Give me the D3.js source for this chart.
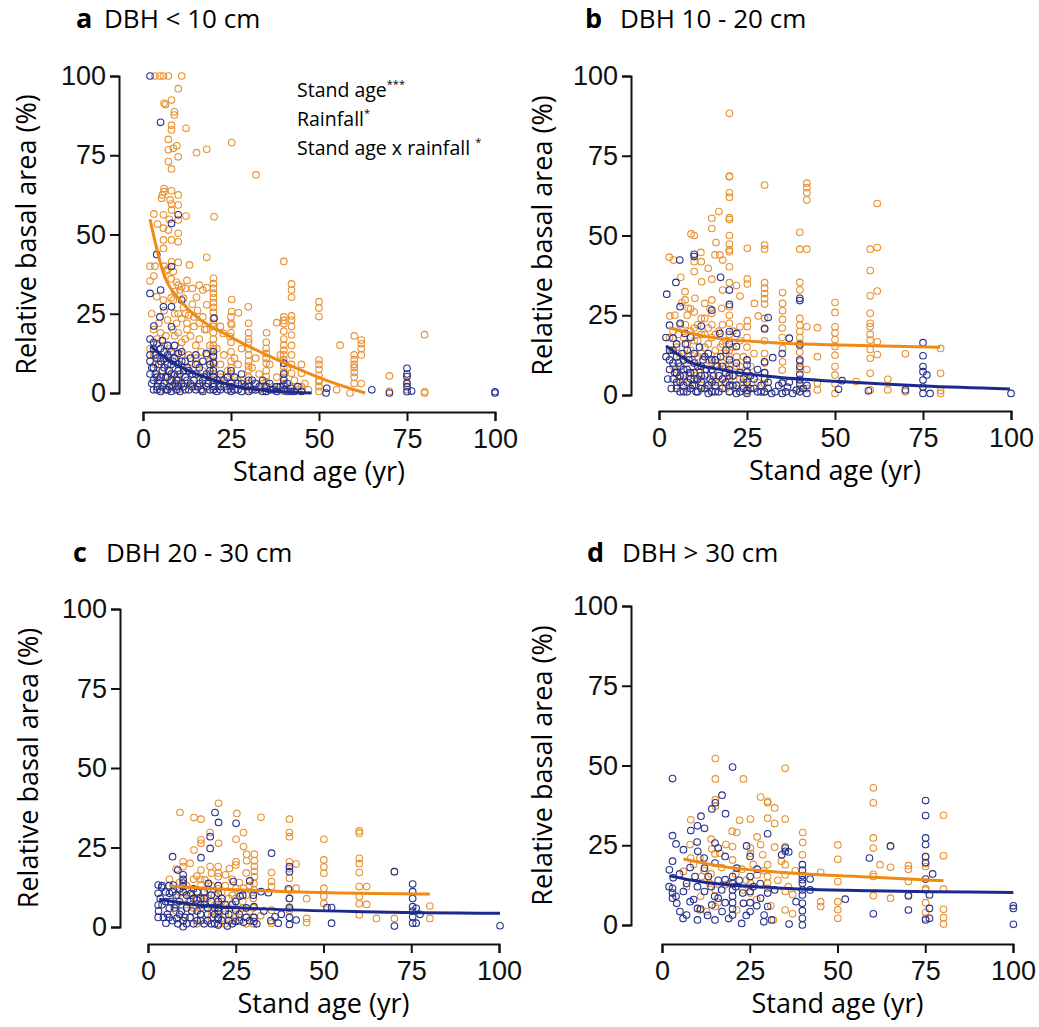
<!DOCTYPE html>
<html>
<head>
<meta charset="utf-8">
<script src="https://cdn.jsdelivr.net/npm/d3@7"></script>
<style>
  body { margin: 0; background: #fff; }
  svg { font-family: "Open Sans", "Noto Sans", sans-serif; }
  .axis path, .axis line { stroke: #111; stroke-width: 2; }
  .axis text { font-size: 27px; fill: #111; }
</style>
</head>
<body>
<div id="chart"></div>
<script>
// ticks and labels
var ageTicks = [0, 25, 50, 75, 100];
var pctTicks = [0, 25, 50, 75, 100];
var panelLetters = ["a", "b", "c", "d"];
var panelTitles = ["DBH < 10 cm", "DBH 10 - 20 cm", "DBH 20 - 30 cm", "DBH > 30 cm"];
var legendTerms = ["Stand age", "Rainfall", "Stand age x rainfall "];
var legendStars = ["***", "*", "*"];

// points: [stand age, relative basal area]
var aOrange = [[3.4,100],[4.8,100],[5.8,100],[7.2,100],[11,100],
[10,96],[6,91.4],[6.4,91],[8.1,92.4],[8.9,88.7],[8.9,87.7],[8.1,84.5],[8.1,83],[12.2,83.5],[7.2,80],[9.6,78],[8.6,77.2],[7.2,76.7],[10,74.5],[15.2,75.8],[18.1,76.9],[25.2,79],[7.2,73],[8.1,70.7],[32.1,68.8],
[6,64.5],[6,63.5],[5.5,62.5],[8.1,63.8],[5.3,61.4],[7.7,60.9],[10,62.5],[10,59.3],[8.1,59.6],[8.1,57.7],[3.1,56.5],[5.8,56.2],[12.2,55.8],[20.2,55.6],[7.5,54.8],[10,54.6],[4.1,53.3],[5.8,52],[7.2,51.4],[10,50.4],[8.1,48.3],[10,47.7],[5.8,48.3],[5.8,45.6],[18.1,42.8],[8.1,41.4],[10,41.2],[40,41.5],[2,40],[3.4,40],[6,40],[7,39],[6.5,38.5],[13.2,40.4],[8.6,38.3],[2,35.3],[3.1,36.9],[8,36],[9.5,35],[10,34],[11,33.5],[12,33],[10.5,32.5],[9,32],[12.5,35.5],[14,33],[16,34],[17,32.5],[18.1,33.2],
[20,36.2],[20,34.5],[20,33],[20,31.5],[20,30],[20,28.5],[20,27],[20,25.5],
[3.9,30.4],[5.8,29.3],[8.6,29.3],[11.5,29.9],[15.2,30.2],[18.1,27.8],[25.2,29.5],[29.9,27.2],[42.2,34.4],[42.2,32.5],[42.2,30.2],[25.2,25.7],[27.1,25.3],[40,24],[40,22.9],[40,21.9],[38,22.2],[42.2,24.3],[42.2,23],[50,28.8],[50,26.8],[50,24.1],
[10,25],[11,23.5],[12.5,22],[13,24.5],[14.5,21],[14.5,24],[16,22],[17.5,20],[20,23.5],[20,22],[20,21],[25.2,21.5],[22.8,18.8],[24.7,17.8],[35.1,19],[42.2,18.3],[60,18],[62,16.7],[62,15.5],[62,14],[62,12],[56,15.1],[80,18.4],
[60,12],[60,10.5],[60,9],[60,8],[60,6.5],[60,5],[50,10.4],[50,9],[50,7.5],[50,5.5],[50,4.1],[40,15.1],[40,13.5],[40,12],[40,10.5],[40,8.3],[42.2,6.2],[30,14],[30,12],[30,10],[30,7.3],[35,12.5],[35,9.4],[35,5.2],[35,2],[45,6.2],[45,2],[50,3.6],[50,2],[50,0.5],[58.8,0],[70,5.4],[70,0.5],[75,3.6],[75,1],[80,0.4],[80,0],
[2,14],[3,12],[3.5,9],[4,6],[5,3],[5,1],[6,15],[6.5,11],[7,7],[7.5,4],[8,2],[8.5,13],[9,18],[9.5,10],[10,5],[10,1],[11,16],[11.5,8],[12,3],[12.5,20],[13,12],[14,6],[14.5,2],[15,15],[15.5,9],[16,4],[17,1],[18,12],[19,6],[20,17],[20,12],[20,8],[20,4],[20,1],[22,9],[23,3],[25,13],[25,6],[25,1],[27,9],[28,4],[30,5],[30,1],[32,3],[33,1],[35,0.5],[38,1],[40,3],[40,0.5],[42,2],[44,1],
[20,19],[20,15],[20,14],[20,10],[20,6],[20,2.5],[25,24],[25,22],[25,19],[25,16],[25,10],[25,8],[25,3.5],[30,22],[30,19],[30,17],[30,16],[30,8.5],[30,3],[35,16],[35,14],[35,11],[35,7],[35,3.5],[40,19.5],[40,17],[40,6.5],[40,5],[42.2,21],[42.2,15],[42.2,12],[42.2,9],[2.5,25],[3,20],[4,17],[4.5,22],[5,19],[6,26],[6.5,18],[7,23],[7.5,14],[8,30],[8.5,20],[9,25],[9.5,22],[10,19],[10.5,14],[11,12],[11.5,27],[12,17],[12,25],[13,8],[13.5,18],[14,28],[15,11],[15.5,26],[16,17],[16.5,13],[17,24],[17,7],[18,20],[18,3],[19,15],[19,10],[21,14],[22,21],[22,5],[23,12],[24,7],[26,11],[27,4],[28,14],[29,2],[31,8],[32,11],[33,6],[34,3],[36,9],[37,2],[38,5],[39,12],[41,8],[43,4],[45,9],[46,3],[47,1],[55,1],[62,3],[60,3]];

var aBlue = [[2,100],[5,85.4],[10,56.2],[8.1,53.5],[3.9,43.7],[8.1,39.9],[2,31.4],[5,32.5],[5.8,27.2],[8.1,27.2],[11,29.3],[3.1,21.1],[4.8,24],[8.1,20.9],[20.2,23.6],[2,17],[3,16],[4,15.5],[5,14],[5.5,16.5],[7,15],[8,13],[9,15],[10,12.5],[18,12.5],[20,11.5],[20,9.4],[40,9.4],[75,7.8],[75,5.2],[75,3],[75,0.4],[65,1],[70,0],[100,0.4],[100,0],[52.2,1.5],[76.3,0.6],[52,0],
[2,10],[2,6],[2.5,3],[3,8],[3,1],[3.5,12],[4,5],[4,2],[4.5,9],[5,0.5],[5.5,7],[6,3],[6,11],[6.5,1],[7,5],[7,9],[7.5,2],[8,0.5],[8,6],[8.5,10],[9,3],[9.5,1],[10,7],[10,4],[10.5,0.5],[11,10],[11.5,2],[12,5],[12.5,8],[13,1],[13.5,3],[14,6],[15,1],[15,9],[16,3],[17,0.5],[17.5,5],[18,2],[19,7],[20,1],[20,3],[20,5],[21,0.5],[22,2],[23,4],[24,1],[25,2],[25,0.5],[26,5],[27,1],[28,3],[30,2],[30,0.5],[31,4],[32,1],[34,0.5],[35,2],[36,1],[38,0.5],[39,2],[40,1],[40,4],[41,0.5],[42,1.5],[43,0.5],[45,0.5],
[2,12],[2.5,8],[3,4],[3,14],[3.5,6],[4,11],[4,1],[4.5,4],[5,10],[5,5],[5.5,2],[6,8],[6,13],[6.5,5],[7,12],[7,1],[7.5,7],[8,4],[8,9],[8.5,2],[9,6],[9,11],[9.5,4],[10,9],[10,2],[10.5,6],[11,3],[11,13],[11.5,7],[12,1],[12,10],[12.5,4],[13,7],[13.5,11],[14,2],[14.5,4],[15,6],[15,12],[15.5,2],[16,8],[16.5,1],[17,4],[17,10],[18,6],[18.5,3],[19,1],[19,9],[20,7],[20,13],[20,2],[21,4],[22,6],[22,1],[23,2],[24,5],[25,3],[25,7],[26,1],[27,3],[28,0.5],[28,6],[29,2],[30,4],[31,1],[32,3],[33,2],[34,4],[35,0.5],[36,3],[37,1],[38,2],[40,2.5],[40,6],[41,3],[42,0.5],[44,2],[75,2],[75,6]];

var bOrange = [[20,88.3],[20,68.6],[20,68.4],[20,63.4],[20,62],[30,65.8],[42,66.4],[42,65],[42,63.4],[42,61.1],[62,60],[20,55.6],[20,55],[17,57.5],[15,55.4],[15,52.2],[9.1,50.5],[10,50],[40,51],[20,50],[16.2,47.8],[20,47.3],[20,45.5],[20,44.9],[25.1,46],[30,47],[30,45.7],[40,45.7],[42,45.7],[60,45.7],[62,46.2],[2.9,43.2],[4.1,42.3],[11.9,44.7],[10,41.8],[10,38.7],[12,41.8],[14,39.7],[15.9,43.9],[17.3,43.9],[18.1,42.3],[20,40.2],[60,39],[6.2,36.9],[12.1,35.5],[15,36.3],[18.1,32.9],[20,35.2],[22,34.3],[23,31],[25.1,36.4],[25.1,34.8],[30,35.2],[30,33.5],[30,31.8],[30,30.2],[30,28.5],[35.1,32.1],[35.1,28.7],[35.1,26.4],[35.1,23.7],[40,35.3],[40,32.9],[62,32.6],[60,31.1],[50,29],[50,25.9],[60,25.6],[60,22.5],[7.4,32.4],[7.4,29.8],[8.3,27.2],[10.2,30.3],[13,28.7],[15,29.8],[15,25.6],[17.8,27.2],[20,27.7],[20,25],[20,22.5],[3.1,24.8],[27.1,28.7],[28.2,24.8],[23,21.4],[25.1,23.3],[25.1,21.4],[40,21.9],[40,19.9],[40,18],[40,16.2],[42,21.4],[45,21.1],[50,21.4],[50,19.4],[50,17.4],[50,15.2],[60,21.4],[60,19],[60,17.2],[62,16.7],[62,12.7],[60,14.3],[60,11.5],[35.1,14.6],[35.1,10.4],[45,12],[50,12.5],[50,8.9],[70,12.9],[80,14.6],[80,6.8],[80,1.4],[80,0.5],[70,1],[65,4.9],[65,1.6],[56,4.2],[60,6.8],[60,1.6],[50,6.3],[50,3.5],[50,0.5],[45,3.7],[45,1.6],[40,10.4],[40,8],[40,5],[40,2],[35,7.8],[35,4],[35,0.5],[30,13],[30,10],[30,7],[30,3.5],[30,1],[25,11],[25,7],[25,3],[25,1],
[4,20],[5,15],[5,8],[6,22],[6,12],[7,18],[7,5],[8,25],[8,10],[8,2],[9,20],[9,14],[10,26],[10,17],[10,6],[11,22],[11,12],[12,19],[12,3],[13,24],[13,15],[13,8],[14,21],[14,11],[15,18],[15,6],[15,1],[16,14],[16,9],[17,20],[17,4],[18,16],[18,10],[19,13],[19,2],[20,19],[20,12],[20,7],[20,3],[21,15],[22,9],[23,5],[24,12],
[3,18],[3.5,14],[4,9],[4.5,25],[5,3],[5.5,19],[6,6],[6.5,29],[7,13],[7.5,22],[8,16],[8.5,7],[9,27],[9.5,11],[10,21],[10,13],[10.5,3],[11,17],[11.5,8],[12,24],[12,13],[12.5,5],[13,19],[13.5,2],[14,16],[14.5,27],[15,10],[15,22],[16,4],[16,19],[16.5,12],[17,8],[17.5,15],[18,22],[18,5],[19,17],[19,9],[20,14],[20,9.5],[20,5],[20,1],[21,20],[21,6],[22,12],[22,2],[23,17],[23,9],[24,4],[25,18],[25,15],[25,5],[26,9],[27,13],[28,4],[30,17],[30,21],[30,24],[35,18],[35,21],[40,24],[40,13.5],[42,2],[42,8]];

var bBlue = [[2.2,31.6],[5.9,42.3],[4.8,35.3],[10,44.1],[10,43.4],[17.5,36.9],[20,32.9],[20,28.4],[31,24.3],[30,20.7],[22.1,19.3],[40,30.3],[40,29.6],[37,17.8],[40,15.7],[75,16.4],[75,12.3],[75,8.9],[75,7.3],[76.1,6.3],[75,4.7],[75,2.5],[75,0.5],[77,0.5],[70,1.6],[59.5,1.3],[52,4.5],[51,1.8],[100,0.5],[32.3,11.7],[30,10.4],[35,13],[35,3.7],[35,0.5],[36.5,2.5],[38,0.5],[40,3.5],[40,1],[42,0.5],[41,2],[40,8.9],[40,4.7],[6,27.7],[6,22.5],[3,21.9],[4,17.8],[7.4,19.3],[12,21.6],[15,26.6],[17.3,19.3],[20,19.9],[22,15.2],[25,9.4],[25,7.3],
[2,12],[3,8],[3,14],[4,5],[4,10],[5,2],[5,7],[5,12],[6,1],[6,4],[6,9],[7,3],[7,11],[7,6],[8,1],[8,8],[8,14],[9,5],[9,2],[10,10],[10,3],[10,7],[11,1],[11,5],[12,9],[12,2],[13,6],[13,12],[14,3],[14,0.5],[15,8],[15,4],[16,1],[16,11],[17,6],[18,2],[18,9],[19,4],[20,1],[20,6],[20,11],[21,3],[22,0.5],[23,7],[24,2],[25,4],[25,0.5],[26,2],[27,5],[28,1],[29,3],[30,1],[30,5],[31,2],[32,0.5],
[2,18],[2.5,5],[3,11],[3.5,2],[4,14],[4.5,7],[5,4],[5,16],[5.5,10],[6,6],[6.5,13],[7,1],[7,8],[7.5,16],[8,4],[8.5,11],[9,7],[9,18],[9.5,3],[10,5],[10,13],[10.5,1],[11,9],[11.5,15],[12,4],[12,6],[12.5,11],[13,2],[13.5,8],[14,13],[14.5,5],[15,1],[15,11],[15.5,6],[16,3],[16.5,9],[17,1],[17.5,12],[18,5],[19,7],[19,14],[20,3],[20,8],[20,16],[21,6],[22,3],[22,10],[23,1],[24,5],[25,1.5],[25,11],[26,6],[27,2],[28,8],[29,1],[30,7],[31,4],[33,1],[34,3],[36,1],[37,4],[39,1.5],[40,6.5],[40,11],[42,3]];

var cOrange = [[20.1,38.9],[9.1,36],[13.1,34.4],[15.1,33.9],[25.3,35.7],[32.2,34.5],[40.3,33.9],[25.1,27.6],[27.2,29.7],[40.3,29.7],[40.3,28.4],[50.1,27.6],[60.2,30.2],[60.2,29.5],[17.7,29.7],[15.1,27.4],[15.1,26.3],[13.1,24.2],[20.1,26.3],[27.2,25.3],[28.1,22.9],[30.3,22.9],[28.1,20.8],[30.3,20.8],[30.3,19.1],[30.3,17.5],[30.3,15.8],[25.1,20.5],[42.2,19.8],[40.3,20.5],[40.3,18.3],[40.3,15.3],[50.1,21.1],[50.1,18.9],[50.1,16.9],[60.2,21.6],[60.2,19.9],[60.2,17.1],[10,20.5],[10,19],[8,18.2],[12,20],[15.1,17.9],[17.7,19],[18.1,16.9],[20,19],[20,17],[20,15.8],[23.2,18.4],[25,19.5],[6.1,15],[10,14.8],[10,12.7],[13.9,16],[15.1,13.2],[16.2,14.8],[22.1,16.4],[27.2,12.2],[30.2,13.7],[30.2,11.6],[35.2,17.1],[35.2,14.3],[35.2,12.7],[42.2,12.2],[40.3,11.6],[40.3,9],[40.3,6.3],[40.3,5.3],[45.2,8.9],[50.1,12.2],[50.1,9.7],[50.1,7.4],[60.2,12.7],[62.3,12.7],[60.2,9.5],[60.2,7.3],[60.2,3.8],[62.3,7.1],[70.2,17.4],[65.1,2.7],[70.2,2.7],[80.3,6.6],[80.3,2.7],[45.2,2.7],[45.2,1.4],[35.2,5.3],[35.2,1.2],[32.1,3.5],
[7,9],[8,5],[9,11],[10,2],[11,7],[12,10],[12,3],[13,6],[14,1],[14,11],[15,4],[16,8],[17,2],[17,12],[18,5],[19,10],[20,1],[20,7],[21,11],[22,4],[23,9],[24,2],[25,12],[25,6],[26,3],[27,8],[28,1],[29,5],[30,9],[30,3],
[9,14],[10,9],[11,13],[12,7],[13,15],[14,9],[15,6],[15,15],[16,11],[17,9],[18,13],[18,3],[19,7],[20,12],[20,4],[21,8],[22,13],[22,1],[23,6],[24,10],[24,15],[25,9],[25,3],[26,14],[27,6],[28,10],[28,17],[29,13],[30,6],[30,1]];

var cBlue = [[19.1,36],[20.1,32.9],[25.1,32.6],[17.7,28.4],[17.7,24.7],[7,22.1],[35.2,23.2],[8.5,17.9],[10,16.4],[10,15],[10,13.8],[10,12.7],[40.3,19],[40.3,17.4],[70.2,17.4],[75.4,13.5],[75.4,11.1],[75.4,9],[75.4,6.4],[75.4,5],[75.4,3.2],[75.4,1.2],[76.4,5.9],[77.5,4],[76.4,1.2],[70.2,0.3],[52.3,6.1],[52.3,1.2],[51,6.1],[100.3,0.4],[2.9,13.2],[2.9,10.6],[2.9,6.9],[3.9,12.4],[2.9,3],[4.4,3],[5.1,1.2],[6.1,10.6],[6.1,5.9],[7.2,13.2],[8.2,2.7],[10,0.1],[12.2,10.6],[13.9,8.5],[15.1,21.8],[17.2,13.7],[20,10.6],[20,8],[20,5],[20,2.5],[20,0.6],[22.6,0.3],[24.3,14.3],[25,5.3],[25,1.7],[26.2,9.7],[27.2,1.5],[29,14.5],[30.2,6.4],[30.2,3],[30.2,1.7],[34.3,10.8],[36.2,3.2],[37.1,1.2],[40.3,9],[40.3,6],[40.3,3],[40.3,0.8],[42.2,2.2],[32.2,11.1],
[5,8],[6,3],[7,11],[8,7],[9,4],[9,12],[10,2],[11,6],[11,10],[12,3],[13,1],[13,12],[14,5],[15,9],[15,2],[16,7],[16,11],[17,4],[18,1],[18,8],[19,6],[20,3],[21,9],[22,5],[23,2],[24,7],[26,4],[27,10],[28,6],[29,2],
[3,5],[3.5,9],[4,13],[4,7],[5,11],[5.5,4],[6,13],[6.5,8],[7,2],[7.5,6],[8,10],[8.5,1],[9,8],[9.5,5],[10,11],[10.5,3],[11,1],[12,8],[12.5,5],[13,9],[14,2],[14,11],[15,4],[15,7],[16,1],[16,9],[17,6],[17,2],[18,10],[19,4],[19,1],[20,6],[20,13],[21,2],[22,7],[23,4],[24,1],[25,8],[26,2],[28,3],[30,10],[31,1],[33,5],[35,2],[38,4],[40,12]];

var dOrange = [[15.2,52.2],[15.2,45.8],[23.2,45.8],[35.1,49.1],[60.2,43],[60.2,38.3],[15.2,39.3],[15.2,37.2],[28.1,40.1],[30.1,38.8],[30.1,38.3],[32.1,36.7],[80.2,34.4],[8.2,33],[22.1,32.8],[25.2,33.2],[30.1,33.5],[32.1,31.8],[35.1,33.2],[20,29.4],[21.3,29],[14,26.9],[8,25.2],[40.1,29],[40.1,25.9],[27.1,27.6],[28.1,25.2],[32.1,24.4],[35.1,24.6],[50.1,25.1],[60.2,27.3],[60.2,24.1],[65.1,24.6],[80.2,21.7],[50.1,20.6],[62.1,18.9],[65.1,18.1],[70.2,18.6],[70.2,17.5],[75.1,19.2],[75.1,11.5],[80.2,11.3],[14.2,23.8],[15.1,22.3],[16.5,22.5],[18.2,25.2],[20.1,24.6],[6.1,16.8],[8.2,21],[10.8,21],[11.3,15.2],[13.5,13.1],[18,12.6],[20.1,20.4],[22.8,17.5],[25.2,24.1],[25.2,22.5],[25.2,13.1],[27.1,15.7],[28.7,22],[30.1,18.9],[30.1,15.2],[30.1,13.1],[35.1,18.9],[35.1,15.7],[35.1,10.5],[37.2,9.6],[35.1,4.7],[37.2,3.5],[40,22],[45.2,16.5],[45.2,7.3],[45.2,5.8],[50.1,13.6],[50.1,7.3],[50.1,4.8],[50.1,2.1],[60.2,15.9],[60.2,15.2],[60.2,9.2],[65.1,8.4],[70.2,13.6],[70.2,9.4],[75.1,21.5],[75.1,18.3],[75.1,11],[75.1,7],[75.1,4],[75.1,2.1],[80.2,4.9],[80.2,2.3],[80.2,0.3],[10.8,4.7],[12.7,4.2],[15.2,11],[15.2,5.8],[21.3,4.7],[23.2,6.8],[25.1,10],[30.1,11.5],[31.7,1.6],
[7,12],[9,19],[11,9],[12,17],[14,16],[16,7],[17,18],[19,13],[21,16],[23,11],[24,14],[26,19],[27,8],[29,17],[31,6],[33,14],[34,20],[36,12],[38,17]];

var dBlue = [[3,45.9],[20.1,49.5],[17.1,40.7],[15.2,38.3],[14.2,36.4],[11.1,34.1],[10.1,31.1],[12.1,30.3],[8.2,29.6],[18.1,34.9],[3,28],[4,25.4],[6.1,23.6],[10.2,23.1],[15.1,25.7],[16,24.1],[24.1,24.8],[25.1,21.5],[30.1,28.6],[35.1,24.1],[35.1,23.1],[34.1,22],[36.1,22.9],[40,18.9],[40,17.2],[40,15.5],[40,14.2],[40,13.1],[40,11],[40,9.4],[40,6.8],[40,4.5],[40,2.1],[40,0],[42.2,14.4],[42.2,11],[38.2,7.3],[36.2,0.3],[31.2,1.6],[22.7,0.5],[59.1,21],[65.1,24.8],[60.2,3.5],[52.2,8.1],[70.2,9.1],[70.2,4.7],[75.1,39],[75.1,34.3],[75.1,27.3],[75.1,25.2],[75.1,21.4],[75.1,19.6],[77.1,16],[75.1,14.4],[76.2,9.4],[76.2,5.2],[76.2,2.1],[75.1,1.6],[100.1,6],[100.1,5.2],[100.1,0.2],[2.1,17.3],[3.2,14.8],[3,11.5],[3,10],[3,8.4],[5.1,4.2],[4.2,6.8],[7,3.1],[6.1,10.5],[8,7.3],[9.4,15.2],[10.1,1.6],[10.1,5.2],[10.1,12],[12.1,10.5],[12.1,17.8],[13.2,15.2],[14.2,6.3],[15.1,1.6],[15.1,19.4],[16,8.4],[17.1,4.2],[18,21.5],[18,14.2],[20.1,15.2],[20.1,13],[20.1,11],[20.1,9],[20.1,7],[20.1,5],[20.1,3.1],[21.3,17.8],[23.2,6.8],[25.1,15.2],[25.1,10.5],[25.1,7],[25.1,4.2],[27.1,17.5],[28.1,8.4],[29.1,3.1],[30.1,10],[30.1,5.8],[32.1,11],
[2,12],[3,20],[4,9],[5,16],[6,2],[7,13],[8,18],[9,8],[10,26],[11,5],[12,21],[13,3],[14,12],[15,9],[16,14],[17,11],[18,7],[19,2],[21,12],[22,14],[23,10],[24,3],[26,12],[27,6],[28,13],[29,1]];

// fitted curves
var aOrangeFit = [[2,54.8],[5.8,37.8],[10.5,29.3],[15.2,24.1],[24.7,17.8],[34.2,12.5],[43.7,7.8],[53.1,3.6],[63.1,0]];
var aBlueFit = [[2.2,14.8],[5.8,11.5],[10.5,8.3],[20,4.1],[29.5,1.5],[47.9,0]];
var bOrangeFit = [[2.9,21.1],[13.5,18.3],[32.5,16.4],[51.4,15.7],[79.8,15]];
var bBlueFit = [[2,15.4],[8.8,10.4],[18.3,7.8],[32.5,5.7],[51.4,4.2],[75.1,2.8],[99.7,1.9]];
var cOrangeFit = [[6.3,12.9],[23.4,11.8],[51.9,10.8],[80.3,10.4]];
var cBlueFit = [[3.2,8.7],[13.9,6.9],[32.9,5.7],[61.3,4.8],[100.3,4.3]];
var dOrangeFit = [[6.1,20.7],[17.5,18.3],[36.5,16.3],[60.2,15],[80.2,13.9]];
var dBlueFit = [[2.1,15.4],[12.7,13.3],[31.7,11.7],[60.2,10.7],[100.1,10.2]];

var orangePts = "#e8912f", bluePts = "#27328e";
var orangeLine = "#f08a14", blueLine = "#1b2a8c";

var svg = d3.select("#chart").append("svg")
  .attr("width", 1039)
  .attr("height", 1027);

// panel frames (pixel layout)
var panels = [
  {x0: 143, x1: 495, y0: 393, y1: 76, yAxisX: 119, xAxisY: 412, ylabX: 27, letterX: 76, titleX: 104, titleY: 28,
   orange: aOrange, blue: aBlue, orangeFit: aOrangeFit, blueFit: aBlueFit},
  {x0: 659, x1: 1011, y0: 395, y1: 76, yAxisX: 631, xAxisY: 411, ylabX: 543, letterX: 585, titleX: 620, titleY: 28,
   orange: bOrange, blue: bBlue, orangeFit: bOrangeFit, blueFit: bBlueFit},
  {x0: 148, x1: 499, y0: 927, y1: 609, yAxisX: 120, xAxisY: 944, ylabX: 29, letterX: 73, titleX: 106, titleY: 562,
   orange: cOrange, blue: cBlue, orangeFit: cOrangeFit, blueFit: cBlueFit},
  {x0: 662, x1: 1013, y0: 925, y1: 606, yAxisX: 631, xAxisY: 944, ylabX: 543, letterX: 587, titleX: 622, titleY: 562,
   orange: dOrange, blue: dBlue, orangeFit: dOrangeFit, blueFit: dBlueFit}
];

panels.forEach(function(p, i) {
  var x = d3.scaleLinear().domain([0, 100]).range([p.x0, p.x1]);
  var y = d3.scaleLinear().domain([0, 100]).range([p.y0, p.y1]);
  var g = svg.append("g");

  // axes
  g.append("g")
    .attr("class", "axis")
    .attr("transform", "translate(0," + p.xAxisY + ")")
    .call(d3.axisBottom(x).tickValues(ageTicks).tickSize(9).tickSizeOuter(9).tickPadding(8));
  g.append("g")
    .attr("class", "axis")
    .attr("transform", "translate(" + p.yAxisX + ",0)")
    .call(d3.axisLeft(y).tickValues(pctTicks).tickSize(9).tickSizeOuter(9).tickPadding(4));

  // axis titles
  g.append("text")
    .attr("x", (p.x0 + p.x1) / 2)
    .attr("y", p.xAxisY + 69)
    .attr("text-anchor", "middle")
    .style("font-size", "27px")
    .text("Stand age (yr)");
  g.append("text")
    .attr("transform", "translate(" + (p.ylabX + 9) + "," + ((p.y0 + p.y1) / 2) + ") rotate(-90)")
    .attr("text-anchor", "middle")
    .style("font-size", "27px")
    .text("Relative basal area (%)");

  // panel title
  g.append("text")
    .attr("x", p.letterX).attr("y", p.titleY)
    .style("font-size", "27px").style("font-weight", "bold")
    .text(panelLetters[i]);
  g.append("text")
    .attr("x", p.titleX).attr("y", p.titleY)
    .style("font-size", "26px")
    .text(panelTitles[i]);

  // points
  g.selectAll("circle.o")
    .data(p.orange)
    .enter().append("circle")
    .attr("class", "o")
    .attr("cx", function(d) { return x(d[0]); })
    .attr("cy", function(d) { return y(d[1]); })
    .attr("r", 3.3)
    .style("fill", "none")
    .style("stroke", orangePts)
    .style("stroke-width", 1.1);
  g.selectAll("circle.b")
    .data(p.blue)
    .enter().append("circle")
    .attr("class", "b")
    .attr("cx", function(d) { return x(d[0]); })
    .attr("cy", function(d) { return y(d[1]); })
    .attr("r", 3.3)
    .style("fill", "none")
    .style("stroke", bluePts)
    .style("stroke-width", 1.1);

  // fitted curves
  var line = d3.line()
    .x(function(d) { return x(d[0]); })
    .y(function(d) { return y(d[1]); })
    .curve(d3.curveMonotoneX);
  g.append("path").datum(p.orangeFit)
    .attr("d", line)
    .style("fill", "none").style("stroke", orangeLine).style("stroke-width", 3);
  g.append("path").datum(p.blueFit)
    .attr("d", line)
    .style("fill", "none").style("stroke", blueLine).style("stroke-width", 3);

  // significance notes (panel a only)
  if (i == 0) {
    var leg = g.append("g").attr("transform", "translate(297,0)");
    legendTerms.forEach(function(t, k) {
      var txt = leg.append("text")
        .attr("x", 0)
        .attr("y", 97 + k * 29)
        .style("font-size", "19.5px")
        .text(t);
      txt.append("tspan")
        .attr("dy", -9)
        .style("font-size", "11px")
        .text(legendStars[k]);
    });
  }
});
</script>
</body>
</html>
